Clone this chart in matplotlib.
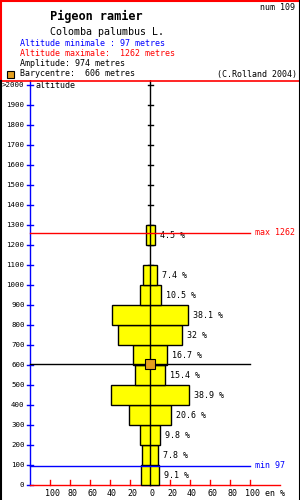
import matplotlib
matplotlib.use("Agg")
import matplotlib.pyplot as plt
from matplotlib.lines import Line2D

plt.rcParams['font.family'] = ['DejaVu Sans Mono']

# Data
species = 'Pigeon ramier'
latin = 'Colomba palumbus L.'
num = 109
alt_min = 97
alt_max = 1262
amplitude = 974
barycentre = 606
bin_low = [0, 100, 200, 300, 400, 500, 600, 700, 800, 900, 1000, 1200]
pct = [9.1, 7.8, 9.8, 20.6, 38.9, 15.4, 16.7, 32, 38.1, 10.5, 7.4, 4.5]
pct_labels = ['9.1 %', '7.8 %', '9.8 %', '20.6 %', '38.9 %', '15.4 %',
              '16.7 %', '32 %', '38.1 %', '10.5 %', '7.4 %', '4.5 %']
alt_ticks = list(range(0, 2100, 100))
x_ticks = [-100, -80, -60, -40, -20, 0, 20, 40, 60, 80, 100]

W, H = 300, 500
fig = plt.figure(figsize=(3, 5), dpi=100)

def ftext(x, y, s, **kw):
    # place text with pixel coords (from top-left)
    fig.text(x / W, 1 - y / H, s, **kw)

def fline(xs, ys, **kw):
    fig.add_artist(Line2D([x / W for x in xs], [1 - y / H for y in ys],
                          transform=fig.transFigure, **kw))

# Header
ftext(50, 16, species, fontsize=8.6, fontweight='bold', va='center')
ftext(50, 32, latin, fontsize=7.2, va='center')
ftext(20, 44, 'Altitude minimale : %d metres' % alt_min, fontsize=6, color='blue', va='center')
ftext(20, 54, 'Altitude maximale:  %d metres' % alt_max, fontsize=6, color='red', va='center')
ftext(20, 64, 'Amplitude: %d metres' % amplitude, fontsize=6, va='center')
ftext(20, 74, 'Barycentre:  %d metres' % barycentre, fontsize=6, va='center')
ftext(297, 74, '(C.Rolland 2004)', fontsize=6, va='center', ha='right')
ftext(295, 8, 'num %d' % num, fontsize=6, va='center', ha='right')
fig.patches.append(plt.Rectangle((7 / W, 1 - 78 / H), 7 / W, 7 / H,
                                 transform=fig.transFigure, facecolor='#e5a01e',
                                 edgecolor='black', lw=0.8))

# Plot area: pixel x = 150 + pct, pixel y = 485 - alt * 0.2
ax = fig.add_axes([0, 0, 1, 420 / H])
ax.set_xlim(-150, 150)
ax.set_ylim(-75, 2025)
ax.axis('off')

centers = [b + 50 for b in bin_low]
ax.barh(centers, [2 * p for p in pct], left=[-p for p in pct], height=100,
        color='#ffff00', edgecolor='black', lw=1, zorder=3)
for c, p, lab in zip(centers, pct, pct_labels):
    ax.text(p + 5, c, lab, fontsize=6, va='center', ha='left')

# central axis with small ticks
ax.plot([0, 0], [0, 2025], color='black', lw=1, zorder=4)
for a in alt_ticks[1:]:
    ax.plot([-2.5, 2.5], [a, a], color='black', lw=1, zorder=2)

# left altitude axis
ax.plot([-120, -120], [0, 2025], color='blue', lw=1)
for a in alt_ticks:
    ax.plot([-123, -117], [a, a], color='blue', lw=1)
    lab = '>2000' if a == 2000 else str(a)
    ax.text(-125.5, a, lab, fontsize=5.4, va='center', ha='right')
ax.text(-115, 2000, 'altitude', fontsize=6, va='center', ha='left')

# bottom percent axis
ax.plot([-120, 130], [0, 0], color='red', lw=1)
for t in x_ticks:
    ax.plot([t, t], [0, 25], color='red', lw=1)
    ax.text(t + 2, -45, str(abs(t)), fontsize=6, va='center', ha='center')
ax.text(115, -45, 'en %', fontsize=6, va='center', ha='left')

# min / max / barycentre lines
ax.plot([-120, 100], [alt_max, alt_max], color='red', lw=1, zorder=5)
ax.text(105, alt_max, 'max %d' % alt_max, fontsize=6, color='red', va='center')
ax.plot([-120, 100], [alt_min, alt_min], color='blue', lw=1, zorder=5)
ax.text(105, alt_min, 'min %d' % alt_min, fontsize=6, color='blue', va='center')
ax.plot([-120, 100], [barycentre, barycentre], color='black', lw=1, zorder=5)
ax.plot([0], [barycentre], marker='s', ms=7, color='#e5a01e',
        markeredgecolor='black', mew=0.8, zorder=6)

# frame
fline([0, 300], [0.5, 0.5], color='red', lw=1.5)
fline([0.5, 0.5], [0, 81], color='red', lw=1.5)
fline([0, 300], [81, 81], color='red', lw=1.2)
fline([0.5, 0.5], [81, 500], color='black', lw=1.5)
fline([299.5, 299.5], [0, 500], color='black', lw=1.5)

fig.savefig('out.png', dpi=100)
